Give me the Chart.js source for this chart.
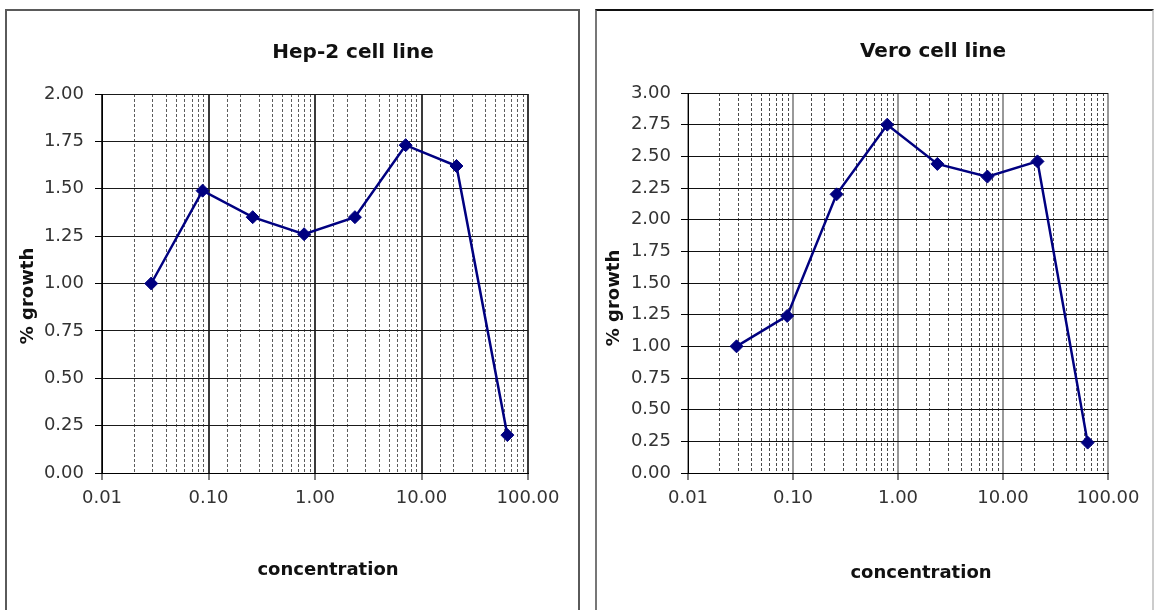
<!DOCTYPE html>
<html>
<head>
<meta charset="utf-8">
<title>Hep-2 and Vero cell lines</title>
<script src="https://cdn.jsdelivr.net/npm/chart.js@4.4.1/dist/chart.umd.min.js"></script>
<style>
  html, body { margin: 0; padding: 0; background: #fff; }
  body { position: relative; width: 1155px; height: 610px; overflow: hidden; }
  .panel { position: absolute; box-sizing: border-box; }
  #panelHep { left: 5px; top: 9px; width: 575px; height: 640px; border: 2px solid #5a5a5a; }
  #panelVero { left: 595px; top: 9px; width: 559px; height: 640px;
    border-left: 2px solid #777; border-top: 2px solid #111; border-right: 2px solid #ccc; }
  canvas { position: absolute; top: 0; }
  #hepChart { left: 0; }
  #veroChart { left: 590px; }
</style>
</head>
<body>
<div class="panel" id="panelHep"></div>
<div class="panel" id="panelVero"></div>
<canvas id="hepChart" width="590" height="610"></canvas>
<canvas id="veroChart" width="565" height="610"></canvas>
<script>
// values
const concentration = [0.029, 0.088, 0.26, 0.79, 2.37, 7.1, 21.3, 64];
const hep2Growth = [1.0, 1.49, 1.35, 1.26, 1.35, 1.73, 1.62, 0.2];
const veroGrowth = [1.0, 1.24, 2.2, 2.75, 2.44, 2.34, 2.46, 0.24];
const xRange = [0.01, 100];
const hep2YMax = 2;
const veroYMax = 3;
const yStep = 0.25;

const FONT = "'DejaVu Sans', sans-serif";
const NAVY = "#000080";
const CLEAR = "rgba(0,0,0,0)";

function isDecade(v) {
  const lg = Math.log10(v);
  return Math.abs(lg - Math.round(lg)) < 1e-6;
}

// chart title and axis titles, placed like in the original sheet
const panelText = {
  id: "panelText",
  afterDraw(chart, args, opts) {
    const ctx = chart.ctx;
    ctx.save();
    ctx.fillStyle = "#111";
    ctx.textAlign = "center";
    ctx.textBaseline = "alphabetic";
    ctx.font = "bold 20px " + FONT;
    ctx.fillText(opts.title, opts.titleX, opts.titleY);
    ctx.font = "bold 18px " + FONT;
    ctx.fillText(opts.xTitle, opts.xTitleX, opts.xTitleY);
    ctx.translate(opts.yTitleX, opts.yTitleY);
    ctx.rotate(-Math.PI / 2);
    ctx.fillText(opts.yTitle, 0, 0);
    ctx.restore();
  },
};

function makeChart(canvasId, growth, yMax, look) {
  const points = concentration.map((c, i) => ({ x: c, y: growth[i] }));
  return new Chart(document.getElementById(canvasId), {
    type: "line",
    data: {
      datasets: [
        {
          data: points,
          borderColor: NAVY,
          backgroundColor: NAVY,
          borderWidth: 2.5,
          tension: 0,
          pointStyle: "rectRot",
          pointRadius: 6.5,
          pointBorderWidth: 1,
          pointBackgroundColor: NAVY,
          pointBorderColor: NAVY,
        },
      ],
    },
    options: {
      responsive: false,
      animation: false,
      layout: { padding: look.padding },
      plugins: {
        legend: { display: false },
        tooltip: { enabled: false },
        panelText: look.text,
      },
      scales: {
        x: {
          type: "logarithmic",
          position: "bottom",
          min: xRange[0],
          max: xRange[1],
          ticks: {
            autoSkip: false,
            maxRotation: 0,
            padding: 8,
            color: "#333",
            font: { family: FONT, size: 18 },
            callback: (v) => (isDecade(v) ? Number(v).toFixed(2) : ""),
          },
          grid: {
            color: (c) => (isDecade(c.tick.value) ? look.majorColor : CLEAR),
            lineWidth: (c) => (isDecade(c.tick.value) ? look.majorWidth : 0),
            tickColor: "#000",
            tickWidth: (c) => (isDecade(c.tick.value) ? 1 : 0),
            tickLength: 7,
          },
          border: { color: "#000", width: 1 },
          afterFit: (s) => { s.height = 40; },
        },
        xMinor: {
          type: "logarithmic",
          position: "bottom",
          min: xRange[0],
          max: xRange[1],
          ticks: { display: false, autoSkip: false },
          grid: {
            color: (c) => (isDecade(c.tick.value) ? CLEAR : look.minorColor),
            lineWidth: 1,
            drawTicks: false,
          },
          border: { display: false, dash: [3, 2] },
          afterFit: (s) => { s.height = 0; },
        },
        y: {
          type: "linear",
          min: 0,
          max: yMax,
          ticks: {
            stepSize: yStep,
            maxTicksLimit: 20,
            padding: look.yPad,
            color: "#333",
            font: { family: FONT, size: 18 },
            callback: (v) => Number(v).toFixed(2),
          },
          grid: { color: look.hColor, lineWidth: 1, tickColor: "#000", tickLength: 7 },
          border: { color: "#000", width: 1 },
          afterFit: (s) => { s.width = 60; },
        },
      },
    },
    plugins: [panelText],
  });
}

makeChart("hepChart", hep2Growth, hep2YMax, {
  padding: { left: 42, right: 62, top: 94, bottom: 97 },
  majorColor: "#3a3a3a",
  majorWidth: 2,
  minorColor: "#5c5c5c",
  hColor: "#1a1a1a",
  yPad: 11,
  text: {
    title: "Hep-2 cell line", titleX: 353, titleY: 58,
    xTitle: "concentration", xTitleX: 328, xTitleY: 575,
    yTitle: "% growth", yTitleX: 33, yTitleY: 296,
  },
});

makeChart("veroChart", veroGrowth, veroYMax, {
  padding: { left: 38, right: 47, top: 93, bottom: 97 },
  majorColor: "#999",
  majorWidth: 2,
  minorColor: "#4a4a4a",
  hColor: "#111",
  yPad: 10,
  text: {
    title: "Vero cell line", titleX: 343, titleY: 57,
    xTitle: "concentration", xTitleX: 331, xTitleY: 578,
    yTitle: "% growth", yTitleX: 29, yTitleY: 298,
  },
});
</script>
</body>
</html>
